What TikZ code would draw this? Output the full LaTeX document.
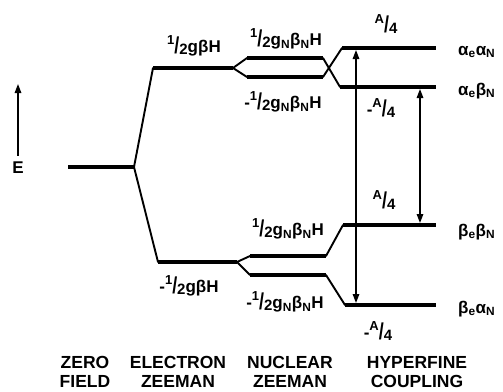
\documentclass[tikz,border=0pt]{standalone}
\usepackage{fontspec}
\setmainfont{Liberation Sans}
\usepackage{graphicx}
\usetikzlibrary{arrows.meta}

% raised numerator, tall slash, lowered denominator
\newcommand{\hfrac}[2]{\raisebox{.45em}{\fontsize{13}{13}\selectfont #1}\raisebox{-.05em}{\scalebox{1.05}[1.35]{/}}\raisebox{-.1em}{\fontsize{15}{15}\selectfont #2}}

\begin{document}
\begin{tikzpicture}[
  x=1pt, y=-1pt,
  font=\fontsize{17}{20}\selectfont\bfseries,
  >={Triangle[length=9pt, width=6.5pt]},
  level/.style={draw=black, line width=3.8pt},
  link/.style={draw=black, line width=1.9pt, line cap=round, line join=round},
  trans/.style={<->, draw=black, line width=1.4pt, shorten <=2pt, shorten >=2pt},
  lab/.style={inner sep=0pt},
  state/.style={inner sep=0pt, anchor=base west},
  stage/.style={inner sep=0pt, align=center, font=\fontsize{17.5}{19}\selectfont\bfseries}
]
\useasboundingbox (0,0) rectangle (503,391);

% ---------------------------------------------------------------------------
% energy axis
% ---------------------------------------------------------------------------
\node[lab] (elab) at (18,168) {E};
\coordinate (etop) at (18,84);
\draw[->, line width=1.4pt, shorten <=6pt] (elab) -- (etop);

% ---------------------------------------------------------------------------
% zero field and electron Zeeman levels
% ---------------------------------------------------------------------------
\coordinate (z0) at (68,167);
\coordinate (z1) at (134,167);
\coordinate (eu0) at (153,68);
\coordinate (eu1) at (233,68);
\coordinate (el0) at (158,262);
\coordinate (el1) at (237,262);
\draw[level] (z0) -- (z1);
\draw[link] (z1) -- (eu0);
\draw[link] (z1) -- (el0);
\draw[level] (eu0) -- (eu1);
\draw[level] (el0) -- (el1);

\node[lab] (eup) at (194,46) {\hfrac{1}{2}gβH};
\node[lab] (elo) at (189,286) {-\hfrac{1}{2}gβH};

% ---------------------------------------------------------------------------
% nuclear Zeeman levels
% ---------------------------------------------------------------------------
\coordinate (nuu0) at (247,58);
\coordinate (nuu1) at (323,58);
\coordinate (nul0) at (247,77);
\coordinate (nul1) at (323,77);
\coordinate (nlu0) at (250,256);
\coordinate (nlu1) at (326,256);
\coordinate (nll0) at (250,275);
\coordinate (nll1) at (326,275);
\draw[link] (eu1) -- (nuu0);
\draw[link] (eu1) -- (nul0);
\draw[link] (el1) -- (nlu0);
\draw[link] (el1) -- (nll0);
\draw[level] (nuu0) -- (nuu1);
\draw[level] (nul0) -- (nul1);
\draw[level] (nlu0) -- (nlu1);
\draw[level] (nll0) -- (nll1);

\node[lab] (nuup) at (286,39) {\hfrac{1}{2}g\textsubscript{N}β\textsubscript{N}H};
\node[lab] (nulo) at (283,102) {-\hfrac{1}{2}g\textsubscript{N}β\textsubscript{N}H};
\node[lab] (nlup) at (288,229) {\hfrac{1}{2}g\textsubscript{N}β\textsubscript{N}H};
\node[lab] (nllo) at (285,302) {-\hfrac{1}{2}g\textsubscript{N}β\textsubscript{N}H};

% ---------------------------------------------------------------------------
% hyperfine levels
% ---------------------------------------------------------------------------
\coordinate (aa0) at (342,48);
\coordinate (aa1) at (436,48);
\coordinate (ab0) at (340,87);
\coordinate (ab1) at (436,87);
\coordinate (bb0) at (343,225);
\coordinate (bb1) at (436,225);
\coordinate (ba0) at (345,305);
\coordinate (ba1) at (436,305);
\draw[link] (nuu1) -- (ab0);
\draw[link] (nul1) -- (aa0);
\draw[link] (nlu1) -- (bb0);
\draw[link] (nll1) -- (ba0);
\draw[level] (aa0) -- (aa1);
\draw[level] (ab0) -- (ab1);
\draw[level] (bb0) -- (bb1);
\draw[level] (ba0) -- (ba1);

\node[lab] (haa) at (386,24) {\hfrac{A}{4}};
\node[lab] (hab) at (381,108) {-\hfrac{A}{4}};
\node[lab] (hbb) at (384,200) {\hfrac{A}{4}};
\node[lab] (hba) at (378,331) {-\hfrac{A}{4}};

\node[state] (saa) at (458,55) {α\textsubscript{e}α\textsubscript{N}};
\node[state] (sab) at (458,95) {α\textsubscript{e}β\textsubscript{N}};
\node[state] (sbb) at (458,236) {β\textsubscript{e}β\textsubscript{N}};
\node[state] (sba) at (458,313) {β\textsubscript{e}α\textsubscript{N}};

% transitions
\coordinate (t1a) at (356,48);
\coordinate (t1b) at (356,305);
\coordinate (t2a) at (420,87);
\coordinate (t2b) at (420,225);
\draw[trans] (t1a) -- (t1b);
\draw[trans] (t2a) -- (t2b);

% ---------------------------------------------------------------------------
% stage captions
% ---------------------------------------------------------------------------
\node[stage] (czf) at (85,372) {ZERO\\FIELD};
\node[stage] (cez) at (178,372) {ELECTRON\\ZEEMAN};
\node[stage] (cnz) at (290,372) {NUCLEAR\\ZEEMAN};
\node[stage] (chf) at (417,372) {HYPERFINE\\COUPLING};

\end{tikzpicture}
\end{document}
